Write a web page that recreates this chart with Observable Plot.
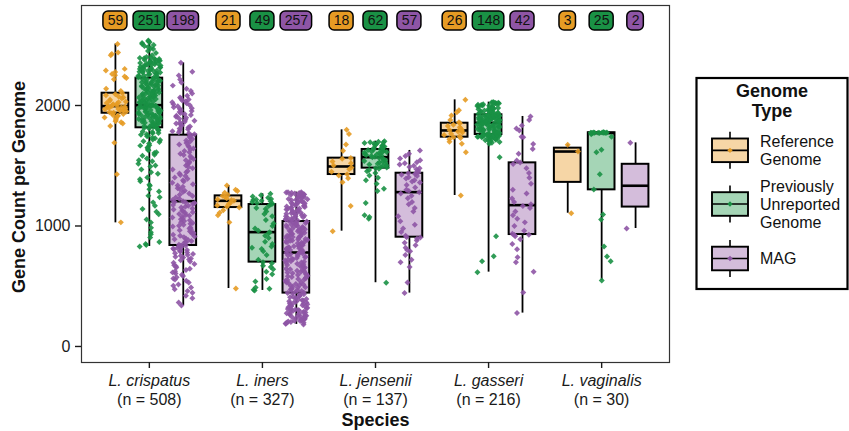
<!DOCTYPE html>
<html><head><meta charset="utf-8">
<script src="https://cdn.jsdelivr.net/npm/d3@7"></script>
<script src="https://cdn.jsdelivr.net/npm/@observablehq/plot@0.6"></script>
<style>
html,body{margin:0;padding:0;background:#fff;}
#chart{width:849px;height:431px;}
</style></head><body><div id="chart"></div>
<script>
// ---------- data ----------
const species = ["L. crispatus", "L. iners", "L. jensenii", "L. gasseri", "L. vaginalis"];
const genomeTypes = ["Reference Genome", "Previously Unreported Genome", "MAG"];
const counts = [[59, 251, 198], [21, 49, 257], [18, 62, 57], [26, 148, 42], [3, 25, 2]];
const yTicks = [0, 1000, 2000];

// box statistics (rows: species, columns: genome type)
const boxLow    = [[1026, 830, 340], [481, 465, 183], [957, 529, 443], [1253, 617, 277], [1106, 548, 979]];
const boxQ1     = [[1936, 1815, 838], [1153, 700, 443], [1427, 1480, 907], [1737, 1759, 929], [1362, 1300, 1157]];
const boxMedian = [[1995, 2003, 1206], [1209, 949, 780], [1494, 1571, 1281], [1793, 1856, 1173], [1618, 1771, 1334]];
const boxQ3     = [[2102, 2227, 1754], [1250, 1178, 1037], [1563, 1635, 1438], [1853, 1923, 1524], [1646, 1774, 1512]];
const boxHigh   = [[2510, 2539, 2354], [1336, 1267, 1281], [1798, 1704, 1627], [2047, 2028, 1909], [1674, 1777, 1690]];

// gene counts of individual genomes
const crispatusRef = [1030,1430,1690,1830,1850,1860,1870,1880,1890,1900,1910,1915,1920,1930,1936,
1940,1945,1950,1955,1960,1962,1968,1972,1978,1982,1985,1988,1990,1993,1995,
2000,2004,2010,2015,2020,2026,2032,2040,2048,2058,2066,2075,2085,2094,2102,
2120,2140,2218,2228,2240,2252,2262,2278,2290,2304,2418,2428,2440,2510];
const crispatusPrev = [830,842,851,868,905,932,948,985,1028,1054,1097,1118,1142,1168,1196,1238,1251,1286,1305,1334,
1342,1371,1388,1402,1433,1447,1468,1494,1502,1517,1538,1546,1561,1583,1591,1606,1612,1628,1633,1648,
1652,1667,1671,1684,1698,1703,1714,1718,1729,1733,1744,1748,1757,1761,1769,1772,1781,1785,1793,1797,1806,1809,1815,
1818,1822,1825,1830,1833,1837,1840,1845,1848,1851,1856,1858,1863,1865,1870,1872,1877,1879,1884,1888,
1890,1895,1897,1902,1904,1907,1912,1914,1919,1922,1924,1929,1931,1936,1938,1942,1944,1949,1951,1955,
1957,1961,1963,1967,1969,1973,1975,1978,1980,1983,1986,1987,1990,1991,1994,1995,1997,1998,1999,2000,2002,2003,
2005,2010,2012,2017,2019,2024,2028,2030,2035,2037,2042,2046,2048,2053,2055,2060,2063,2066,2071,2073,
2078,2081,2083,2088,2090,2096,2098,2101,2106,2108,2113,2115,2120,2123,2126,2131,2133,2138,2140,2144,
2148,2151,2155,2158,2162,2165,2169,2173,2176,2180,2183,2187,2190,2194,2198,2201,2205,2208,2212,2215,2219,2223,2227,
2231,2234,2238,2241,2245,2248,2252,2255,2259,2262,2266,2269,2273,2276,2280,2283,2287,2290,2294,2297,
2301,2304,2308,2311,2315,2318,2322,2325,2329,2332,2336,2339,2343,2346,2350,2353,2357,2360,2364,2367,
2371,2374,2378,2381,2385,2388,2392,2395,2398,2402,2418,2436,2452,2468,2476,2485,2494,2502,2511,2519,2526,2533,2539];
const crispatusMAG = [340,365,400,420,445,460,475,490,505,515,530,545,555,565,575,585,595,605,615,625,
635,645,655,665,675,685,695,705,715,722,730,738,745,752,760,767,774,781,788,795,801,807,813,818,823,828,832,835,838,
845,852,861,867,875,883,890,897,906,912,920,928,935,942,951,957,965,973,980,987,996,1002,1010,1018,1025,1032,
1041,1047,1055,1063,1070,1077,1086,1092,1100,1108,1115,1122,1131,1137,1145,1153,1160,1167,1175,1182,1190,1195,1200,1206,
1215,1227,1237,1249,1259,1270,1282,1292,1304,1314,1325,1337,1347,1359,1369,1380,1392,1402,1414,1424,
1435,1447,1457,1469,1479,1490,1502,1512,1524,1534,1545,1557,1567,1579,1589,1600,1612,1622,1634,1644,
1655,1667,1677,1689,1699,1710,1722,1732,1743,1754,
1762,1770,1778,1786,1794,1802,1810,1818,1826,1834,1842,1850,1858,1866,1874,1882,1890,1898,1906,1914,
1922,1930,1938,1946,1954,1962,1970,1978,1986,1994,2002,2010,2018,2026,2034,2042,2050,2058,2066,
2080,2100,2120,2140,2165,2190,2215,2250,2280,2354];

const inersRef = [481,1030,1090,1110,1130,1153,1160,1170,1180,1190,1209,1215,1220,1230,1240,1250,1260,1275,1290,1300,1336];
const inersPrev = [465,470,480,490,540,560,600,620,640,660,670,690,700,
720,760,790,810,820,830,850,870,900,920,940,949,
960,980,1000,1020,1050,1080,1100,1120,1140,1150,1165,1178,
1185,1190,1200,1205,1210,1215,1220,1225,1235,1245,1255,1267];
const inersMAG = [183,188,191,196,199,204,207,212,214,219,223,226,231,234,238,243,247,250,254,258,
262,265,269,273,276,281,284,288,292,295,299,303,307,311,314,318,322,326,330,334,
338,342,346,350,354,358,362,366,371,375,380,384,389,394,398,403,408,413,418,424,429,434,439,443,
449,454,460,465,471,476,482,487,492,498,503,508,514,519,524,530,535,540,545,551,
556,561,566,572,577,582,587,593,598,603,608,614,619,624,629,635,640,645,650,656,
661,666,671,677,682,687,692,698,703,708,713,719,724,729,734,740,745,750,755,761,766,771,776,780,
784,789,792,797,800,805,808,813,816,821,824,829,832,837,840,845,848,853,856,861,
864,869,872,877,880,885,888,893,896,901,904,909,912,917,920,925,928,933,936,941,
944,949,952,957,960,965,968,973,976,981,984,989,992,997,1000,1005,1008,1013,1016,1021,1024,1029,1032,1037,
1041,1046,1049,1054,1057,1062,1065,1070,1073,1078,1081,1086,1089,1094,1097,1102,1105,1110,1113,1118,
1121,1126,1129,1134,1137,1142,1145,1150,1153,1158,1161,1166,1169,1174,1177,1182,1185,1190,1193,1198,
1201,1206,1209,1214,1217,1222,1225,1230,1233,1238,1241,1246,1249,1254,1257,1261,1264,1267,1270,1272,1274,1276,1278,1280,1281];

const jenseniiRef = [957,1165,1364,1397,1420,1430,1450,1470,1485,1503,1520,1535,1558,1565,1624,1676,1764,1798];
const jenseniiPrev = [529,1060,1075,1090,1190,1290,1310,1350,1380,1400,1420,1440,1455,1465,1475,1480,
1486,1492,1498,1504,1510,1516,1522,1528,1534,1540,1546,1552,1558,1565,1571,
1575,1580,1585,1590,1594,1598,1602,1606,1610,1614,1618,1622,1627,1631,1635,
1640,1645,1650,1655,1660,1664,1668,1672,1676,1680,1684,1688,1692,1696,1700,1704];
const jenseniiMAG = [443,530,660,700,720,760,790,800,820,840,860,880,895,905,907,
920,950,980,1010,1040,1080,1120,1150,1180,1200,1230,1250,1270,1281,
1290,1300,1320,1340,1360,1370,1380,1395,1405,1415,1425,1432,1436,1438,
1445,1460,1470,1480,1490,1500,1510,1520,1530,1545,1560,1580,1600,1627];

const gasseriRef = [1253,1613,1682,1700,1720,1730,1737,1745,1755,1765,1775,1785,1790,1796,1800,1810,1820,1830,1840,1853,1860,1880,1917,1945,1960,2047];
const gasseriPrev = [617,708,749,915,1571,1682,1690,1697,1703,1708,1712,1716,1720,1723,1726,1729,1731,1733,1735,1737,
1739,1741,1743,1745,1746,1747,1748,1749,1750,1751,1752,1753,1754,1755,1756,1757,1758,
1761,1764,1766,1769,1771,1774,1777,1779,1782,1785,1787,1790,1793,1795,1798,1801,1803,1806,1809,1811,
1814,1817,1819,1822,1825,1827,1830,1833,1835,1838,1841,1843,1846,1849,1851,1854,1856,
1858,1860,1862,1864,1866,1868,1869,1871,1873,1875,1877,1879,1880,1882,1884,1886,1888,1890,1891,1893,
1895,1897,1899,1901,1902,1904,1906,1908,1910,1912,1913,1915,1917,1918,1920,1921,1923,
1926,1929,1932,1935,1938,1941,1944,1947,1950,1953,1956,1959,1962,1965,1968,1971,1974,1977,1980,1983,
1986,1989,1992,1995,1998,2001,2004,2007,2010,2013,2016,2019,2021,2023,2025,2027,2028];
const gasseriMAG = [277,448,620,700,740,807,850,890,915,925,928,935,960,1000,1030,1060,1090,1120,1150,1165,
1180,1200,1228,1270,1300,1350,1400,1440,1480,1515,1527,1543,1600,1640,1680,1737,1740,1793,1810,1834,1880,1909];

const vaginalisRef = [1106, 1618, 1674];
const vaginalisPrev = [548,708,747,830,1054,1095,1303,1430,1613,1632,1740,1762,1771,1771,1772,1772,1773,1773,1774,1774,1775,1775,1776,1776,1777];
const vaginalisMAG = [979, 1690];

const pointGroups = [
  [crispatusRef, crispatusPrev, crispatusMAG],
  [inersRef, inersPrev, inersMAG],
  [jenseniiRef, jenseniiPrev, jenseniiMAG],
  [gasseriRef, gasseriPrev, gasseriMAG],
  [vaginalisRef, vaginalisPrev, vaginalisMAG]
];

// ---------- styling ----------
const FONT = "'Liberation Sans', Arial, Helvetica, sans-serif";
const pointColors = ["#E69B24", "#1A9145", "#8E55A5"];
const boxFills = ["#F6D6A6", "#A5D5B6", "#D4BDDB"];
const typeOffset = [-0.3, 0, 0.3];
const boxHalf = 0.118;
const jitterHalf = 0.1;
const xDomain = [0.4, 5.6];
const W = 849, H = 431, ML = 81, MR = 180, MT = 5, MB = 69;
const pxPerUnit = (W - ML - MR) / (xDomain[1] - xDomain[0]);
// deterministic horizontal jitter (hash of point index), position only
const jit = (i, k) => { const s = Math.sin(i * 12.9898 + k * 78.233) * 43758.5453; return s - Math.floor(s) - 0.5; };

// ---------- derived tables ----------
const boxRows = [], labelRows = [], pointRows = [];
species.forEach((sp, si) => {
  genomeTypes.forEach((gt, ti) => {
    const xc = si + 1 + typeOffset[ti];
    boxRows.push({xc, x1: xc - boxHalf, x2: xc + boxHalf,
      lo: boxLow[si][ti], q1: boxQ1[si][ti], med: boxMedian[si][ti], q3: boxQ3[si][ti], hi: boxHigh[si][ti],
      fill: boxFills[ti]});
    const n = counts[si][ti];
    const wpx = 9 + 7.5 * String(n).length;
    labelRows.push({xc, x1: xc - wpx / 2 / pxPerUnit, x2: xc + wpx / 2 / pxPerUnit, n: String(n), fill: pointColors[ti]});
    const k = si * 3 + ti + 1;
    pointGroups[si][ti].forEach((v, i) => {
      pointRows.push({x: xc + jit(i + 1, k) * 2 * jitterHalf, value: v, fill: pointColors[ti]});
    });
  });
});
const speciesTotals = counts.map(r => d3.sum(r));
const xTickValues = species.map((_, i) => i + 1);

const plot = Plot.plot({
  width: W, height: H,
  marginLeft: ML, marginRight: MR, marginTop: MT, marginBottom: MB,
  style: {fontFamily: FONT, fontSize: "16px", color: "#1a1a1a", background: "white"},
  x: {domain: xDomain},
  y: {domain: [-133, 2830]},
  color: {type: "identity"},
  marks: [
    Plot.ruleX(boxRows, {x: "xc", y1: "lo", y2: "hi", stroke: "#000", strokeWidth: 1.8}),
    Plot.rect(boxRows, {x1: "x1", x2: "x2", y1: "q1", y2: "q3", fill: "fill", stroke: "#000", strokeWidth: 2}),
    Plot.ruleY(boxRows, {x1: "x1", x2: "x2", y: "med", stroke: "#000", strokeWidth: 2.6}),
    Plot.dot(pointRows, {x: "x", y: "value", symbol: "diamond2", r: 2.7, fill: "fill", fillOpacity: 0.9, stroke: null}),
    Plot.rect(labelRows, {x1: "x1", x2: "x2", insetTop: 6, insetBottom: 332, rx: 5, ry: 5, fill: "fill", stroke: "#000", strokeWidth: 1.5}),
    Plot.text(labelRows, {x: "xc", text: "n", frameAnchor: "top", dy: 15.5, lineAnchor: "middle", fontSize: 14, fill: "#111"}),
    Plot.frame({stroke: "#333", strokeWidth: 1.2}),
    Plot.axisY({ticks: yTicks, tickFormat: d => String(d), tickSize: 6, tickPadding: 5, fontSize: 16, label: null, strokeWidth: 1.4}),
    Plot.axisX({ticks: xTickValues, tickFormat: d => species[d - 1], tickSize: 6, tickPadding: 6.6, fontSize: 16, fontStyle: "italic", label: null, strokeWidth: 1.4}),
    Plot.axisX({ticks: xTickValues, tickFormat: d => `(n = ${speciesTotals[d - 1]})`, tickSize: 0, tickPadding: 31.6, fontSize: 16, label: null}),
    Plot.text(["Species"], {text: d => d, frameAnchor: "bottom", lineAnchor: "top", dy: 50.7, fontSize: 18, fontWeight: "bold", fill: "#111"}),
    Plot.text(["Gene Count per Genome"], {text: d => d, frameAnchor: "left", textAnchor: "middle", lineAnchor: "bottom", rotate: -90, dx: -57, dy: 3, fontSize: 18, fontWeight: "bold", fill: "#111"})
  ]
});
document.getElementById("chart").appendChild(plot);

// ---------- legend ----------
const svg = d3.select(plot);
const lg = svg.append("g").attr("font-family", FONT).attr("text-anchor", "start");
lg.append("rect").attr("x", 696.5).attr("y", 78).attr("width", 151).attr("height", 211)
  .attr("fill", "white").attr("stroke", "#000").attr("stroke-width", 2.2);
["Genome", "Type"].forEach((t, i) => {
  lg.append("text").attr("x", 772).attr("y", 96.5 + i * 20).attr("text-anchor", "middle")
    .attr("font-size", 18).attr("font-weight", "bold").attr("fill", "#111").text(t);
});
const keyCenters = [150.3, 204, 258.5];
genomeTypes.forEach((gt, ti) => {
  const cy = keyCenters[ti], kx = 712, kw = 36;
  lg.append("line").attr("x1", kx + kw / 2).attr("x2", kx + kw / 2).attr("y1", cy - 18.5).attr("y2", cy + 18.5)
    .attr("stroke", "#000").attr("stroke-width", 1.6);
  lg.append("rect").attr("x", kx).attr("y", cy - 11.8).attr("width", kw).attr("height", 23.6)
    .attr("fill", boxFills[ti]).attr("stroke", "#000").attr("stroke-width", 1.9);
  lg.append("line").attr("x1", kx).attr("x2", kx + kw).attr("y1", cy).attr("y2", cy)
    .attr("stroke", "#000").attr("stroke-width", 1.7);
  lg.append("path").attr("d", d3.symbol(d3.symbolDiamond2, 18)()).attr("transform", `translate(${kx + kw / 2},${cy})`)
    .attr("fill", pointColors[ti]);
  const words = gt.split(" ");
  const lh = 17.8;
  words.forEach((w, j) => {
    const yc = cy + (j - (words.length - 1) / 2) * lh;
    lg.append("text").attr("x", 760).attr("y", yc + 5.8).attr("text-anchor", "start")
      .attr("font-size", 16).attr("fill", "#111").text(w);
  });
});
</script>
</body></html>
